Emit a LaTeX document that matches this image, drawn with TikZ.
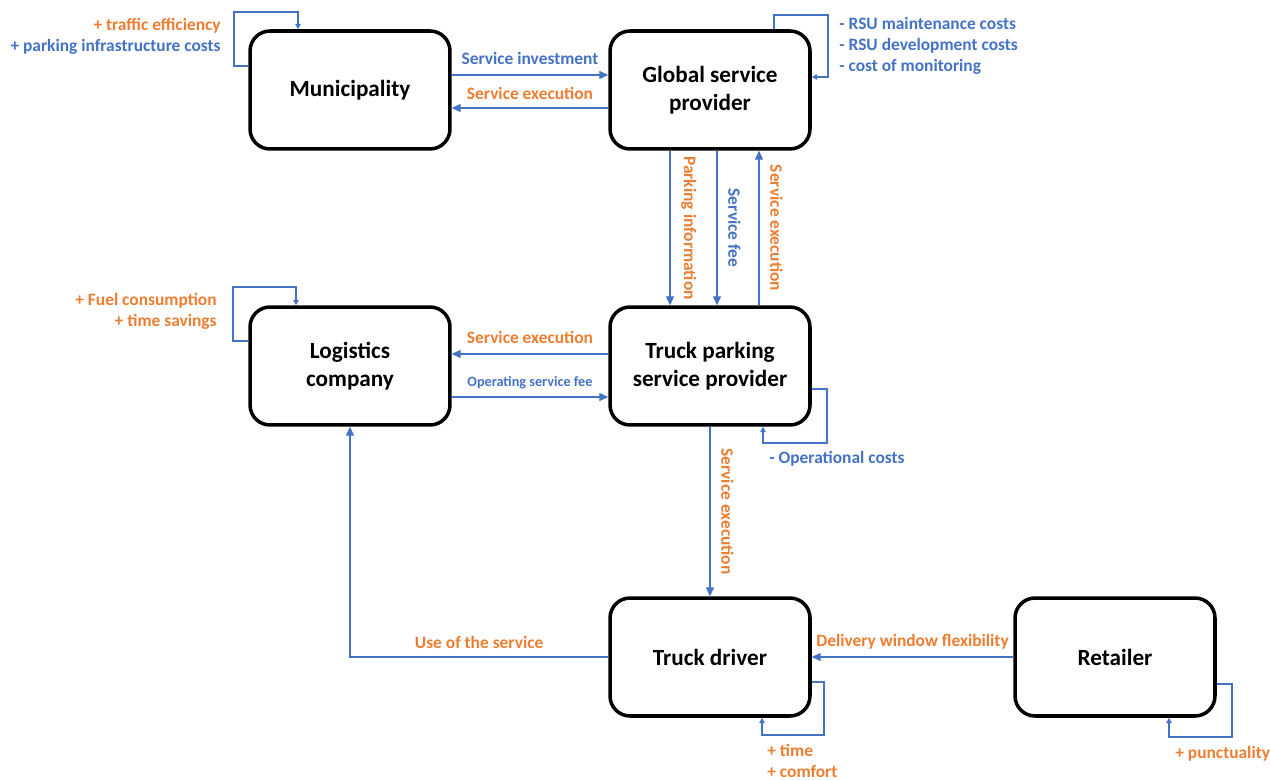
\documentclass[tikz,border=0pt]{standalone}
\usepackage{fontspec}
\setmainfont{Carlito}
\usepackage{tikz}
\usetikzlibrary{arrows.meta}
\definecolor{offblue}{RGB}{68,114,196}
\definecolor{offorange}{RGB}{237,125,49}

\begin{document}
\begin{tikzpicture}[x=0.02cm, y=-0.02cm,
    actor/.style={draw, line width=2pt, rounded corners=0.4cm, fill=white,
        minimum width=4.0cm, minimum height=2.36cm, align=center,
        font=\fontsize{13.2}{16}\selectfont\bfseries},
    flow/.style={draw=offblue, line width=0.6pt, -{Triangle[length=5pt,width=4.5pt]}},
    selfloop/.style={draw=offblue, line width=1.2pt, -{Triangle[length=3pt,width=3pt]}},
    lbl/.style={font=\fontsize{9.9}{12}\selectfont\bfseries},
    small lbl/.style={font=\fontsize{8.1}{10}\selectfont\bfseries},
    vlbl/.style={lbl, rotate=-90, anchor=south, outer sep=3pt},
    note/.style={inner sep=0pt, font=\fontsize{9.9}{12}\selectfont\bfseries}]

    \useasboundingbox (0,0) rectangle (1270,780);

    % Actors
    \node[actor] (Mun) at (350,90) {Municipality};
    \node[actor] (Glob) at (710,90) {Global service\\provider};
    \node[actor] (Log) at (350,366) {Logistics\\company};
    \node[actor] (TP) at (710,366) {Truck parking\\service provider};
    \node[actor] (TD) at (710,657) {Truck driver};
    \node[actor] (Ret) at (1115,657) {Retailer};

    % Municipality <-> global service provider
    \draw[flow] (Mun.east |- 0,75) -- node[lbl, above=2pt, text=offblue] (lInv) {Service investment} (Glob.west |- 0,75);
    \draw[flow] (Glob.west |- 0,108) -- node[lbl, above=1pt, text=offorange] (lExecA) {Service execution} (Mun.east |- 0,108);

    % Global service provider <-> truck parking service provider
    \draw[flow] (Glob.south -| 670,0) -- node[vlbl, text=offorange] (lPark) {Parking information} (TP.north -| 670,0);
    \draw[flow] (Glob.south -| 717,0) -- node[vlbl, text=offblue] (lFee) {Service fee} (TP.north -| 717,0);
    \draw[flow] (TP.north -| 759,0) -- node[vlbl, text=offorange] (lExecB) {Service execution} (Glob.south -| 759,0);

    % Truck parking service provider <-> logistics company
    \draw[flow] (TP.west |- 0,354) -- node[lbl, above=2pt, text=offorange] (lExecC) {Service execution} (Log.east |- 0,354);
    \draw[flow] (Log.east |- 0,397) -- node[small lbl, above=1pt, text=offblue] (lOpFee) {Operating service fee} (TP.west |- 0,397);

    % Truck driver
    \draw[flow] (TP.south) -- node[vlbl, text=offorange] (lExecD) {Service execution} (TD.north);
    \draw[flow] (TD.west) -| node[lbl, pos=0.25, above=1pt, text=offorange] (lUse) {Use of the service} (Log.south);
    \draw[flow] (Ret.west) -- node[lbl, above=1pt, text=offorange] (lDel) {Delivery window flexibility} (TD.east);

    % Self loops
    \draw[selfloop] (Mun.west |- 0,66) -| (234,12) -| (Mun.north -| 298,0);
    \draw[selfloop] (Glob.north -| 774,0) |- (828,15) |- (Glob.east |- 0,77);
    \draw[selfloop] (Log.west |- 0,341) -| (233,287) -| (Log.north -| 296,0);
    \draw[selfloop] (TP.east |- 0,389) -| (827,443) -| (TP.south -| 763,0);
    \draw[selfloop] (TD.east |- 0,682) -| (824,735) -| (TD.south -| 762,0);
    \draw[selfloop] (Ret.east |- 0,684) -| (1232,737) -| (Ret.south -| 1169,0);

    % Loop notes
    \node[note, anchor=east, align=right] (nMun) at (221,36) {\textcolor{offorange}{+ traffic efficiency}\\\textcolor{offblue}{+ parking infrastructure costs}};
    \node[note, anchor=west, align=left, text=offblue] (nGlob) at (839,46) {- RSU maintenance costs\\- RSU development costs\\- cost of monitoring};
    \node[note, anchor=east, align=right, text=offorange] (nLog) at (217,311) {+ Fuel consumption\\+ time savings};
    \node[note, anchor=west, text=offblue] (nTP) at (769,459) {- Operational costs};
    \node[note, anchor=west, align=left, text=offorange] (nTD) at (767,761) {+ time\\+ comfort};
    \node[note, anchor=west, text=offorange] (nRet) at (1175,754) {+ punctuality};

\end{tikzpicture}
\end{document}
